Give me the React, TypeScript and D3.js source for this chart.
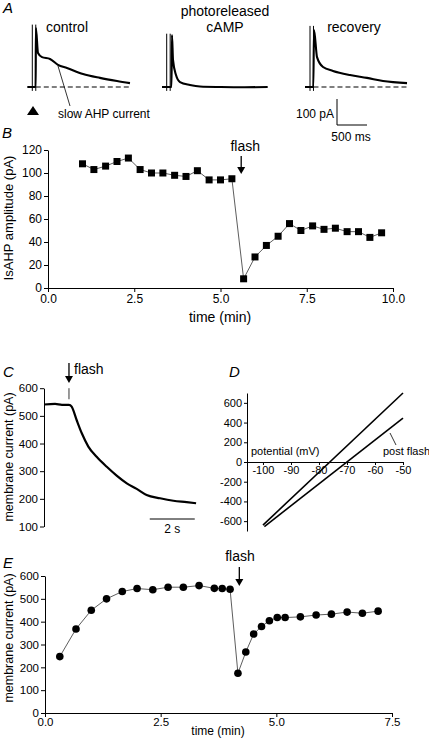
import React, { useEffect, useRef } from "react";
import * as d3 from "d3";

const FONT = "Arial, 'Liberation Sans', Helvetica, sans-serif";

// ---------- Panel A: current traces (time in ms after stimulus, current in pA above baseline)
const controlT = [-83, 0, 55, 60, 95, 162, 295, 428, 578, 845, 1128, 1412, 1628];
const controlI = [0, 0, 0, 227, 131, 115, 108, 85, 73, 50, 35, 23, 15];
const camT = [-78, 0, 80, 88, 105, 155, 222, 388, 555, 900, 1300, 1683];
const camI = [0, 0, 0, 200, 104, 46, 19, 8, 2, 0, -1, 0];
const recoveryT = [-83, 0, 55, 67, 117, 217, 383, 667, 950, 1217, 1617];
const recoveryI = [0, 0, 0, 219, 115, 77, 62, 46, 35, 23, 15];
const artifactTimes = [0, 58];
const artifactTops = [240, 205, 235];
const artifactBottom = -15;

// ---------- Panel B: IsAHP amplitude vs time
const bTime = [1.0, 1.33, 1.67, 2.0, 2.33, 2.67, 3.0, 3.33, 3.67, 4.0, 4.33, 4.67, 5.0, 5.33, 5.67, 6.0, 6.33, 6.67, 7.0, 7.33, 7.67, 8.0, 8.33, 8.67, 9.0, 9.33, 9.67];
const bAmp = [108, 103, 106, 110, 113, 103, 100, 100, 98, 97, 102, 94, 94, 95, 8, 27, 37, 45, 56, 50, 54, 51, 52, 49, 49, 44, 48];
const bXTicks = [0, 2.5, 5, 7.5, 10];
const bYTicks = [0, 20, 40, 60, 80, 100, 120];
const bFlash = 5.6;

// ---------- Panel C: membrane current trace (time s, current pA)
const cTime = [0, 0.49, 0.8, 1.11, 1.23, 1.45, 1.68, 1.97, 2.34, 2.79, 3.23, 3.68, 4.12, 4.56, 5.16, 5.75, 6.34, 6.76];
const cCurrent = [541, 543, 540, 540, 533, 485, 437, 389, 352, 316, 284, 256, 236, 214, 202, 193, 188, 184];
const cYTicks = [100, 200, 300, 400, 500, 600];
const cFlash = 1.11;
const cScaleBar = [4.7, 6.7];

// ---------- Panel D: I-V relations (mV, pA)
const dControlV = [-100, -50];
const dControlI = [-640, 700];
const dPostV = [-99.5, -50];
const dPostI = [-655, 445];
const dXTicks = [-100, -90, -80, -70, -60, -50];
const dYTicks = [-600, -400, -200, 0, 200, 400, 600];

// ---------- Panel E: membrane current vs time
const eTime = [0.32, 0.67, 1.0, 1.33, 1.67, 1.99, 2.33, 2.66, 2.99, 3.33, 3.66, 3.83, 4.0, 4.17, 4.34, 4.51, 4.68, 4.85, 5.02, 5.19, 5.52, 5.86, 6.19, 6.53, 6.86, 7.2];
const eCurrent = [247, 368, 450, 500, 532, 545, 540, 551, 551, 558, 546, 545, 542, 174, 267, 346, 379, 404, 418, 418, 421, 429, 433, 442, 437, 446];
const eXTicks = [0, 2.5, 5, 7.5];
const eYTicks = [0, 100, 200, 300, 400, 500, 600];
const eFlash = 4.2;

// ---------- scales
const xA = d3.scaleLinear().domain([0, 500]).range([0, 30]);
const yA = d3.scaleLinear().domain([0, 100]).range([87, 61]);
const xB = d3.scaleLinear().domain([0, 10]).range([48, 393]);
const yB = d3.scaleLinear().domain([0, 120]).range([288, 150]);
const xC = d3.scaleLinear().domain([0, 1]).range([44, 66.5]);
const yC = d3.scaleLinear().domain([100, 600]).range([526.5, 388.2]);
const xD = d3.scaleLinear().domain([-105.7, -50]).range([247, 403]);
const yD = d3.scaleLinear().domain([-700, 700]).range([531, 393]);
const xE = d3.scaleLinear().domain([0, 7.5]).range([45, 392]);
const yE = d3.scaleLinear().domain([0, 600]).range([713, 576]);

const traceOffsets = [32.3, 166.7, 310];

function Arrow({ x, y1, y2 }: { x: number; y1: number; y2: number }) {
  return (
    <g>
      <line x1={x} x2={x} y1={y1} y2={y2 - 6} stroke="#000" strokeWidth={1.3} />
      <path d={`M${x - 4},${y2 - 7} L${x + 4},${y2 - 7} L${x},${y2} Z`} fill="#000" />
    </g>
  );
}

export default function App() {
  const ref = useRef<SVGSVGElement>(null);

  useEffect(() => {
    const svg = d3.select(ref.current);
    const style = (g: any, fs: number) => {
      g.attr("font-family", FONT).attr("font-size", fs);
      g.selectAll("text").attr("fill", "#000");
      g.select(".domain").attr("stroke", "#000").attr("stroke-width", 1);
      g.selectAll(".tick line").attr("stroke", "#000");
    };
    const f1 = d3.format(".1f");
    const plain = (d: any) => String(d);
    svg.select<SVGGElement>(".bx").call(d3.axisBottom(xB).tickValues(bXTicks).tickFormat(f1 as any).tickSize(4).tickSizeOuter(0).tickPadding(2)).call(style, 12);
    svg.select<SVGGElement>(".by").call(d3.axisLeft(yB).tickValues(bYTicks).tickFormat(plain).tickSize(4).tickSizeOuter(0).tickPadding(2)).call(style, 12);
    svg.select<SVGGElement>(".cy").call(d3.axisLeft(yC).tickValues(cYTicks).tickFormat(plain).tickSize(4).tickSizeOuter(0).tickPadding(2)).call(style, 11.5);
    svg.select<SVGGElement>(".dy").call(d3.axisLeft(yD).tickValues(dYTicks).tickFormat(plain).tickSize(3).tickSizeOuter(0).tickPadding(2)).call(style, 11);
    svg.select<SVGGElement>(".dx").call(d3.axisBottom(xD).tickValues(dXTicks).tickFormat(plain).tickSize(3).tickSizeOuter(0).tickPadding(1)).call(style, 11);
    svg.select<SVGGElement>(".ex").call(d3.axisBottom(xE).tickValues(eXTicks).tickFormat(f1 as any).tickSize(4).tickSizeOuter(0).tickPadding(1)).call(style, 11.5);
    svg.select<SVGGElement>(".ey").call(d3.axisLeft(yE).tickValues(eYTicks).tickFormat(plain).tickSize(4).tickSizeOuter(0).tickPadding(2)).call(style, 11.5);
    svg.select(".dx").selectAll(".tick text").attr("dy", "0.75em");
  }, []);

  const traces = [
    { t: controlT, i: controlI },
    { t: camT, i: camI },
    { t: recoveryT, i: recoveryI },
  ];
  const traceLine = (off: number) =>
    d3.line<[number, number]>().x((d) => off + xA(d[0])).y((d) => yA(d[1])).curve(d3.curveMonotoneX);

  const bLine = d3.line<number>().x((_, k) => xB(bTime[k])).y((d) => yB(d));
  const cLine = d3.line<number>().x((_, k) => xC(cTime[k])).y((d) => yC(d)).curve(d3.curveMonotoneX);
  const eLine = d3.line<number>().x((_, k) => xE(eTime[k])).y((d) => yE(d));
  const dLine = (v: number[], i: number[]) => d3.line<number>().x((d) => xD(d)).y((_, k) => yD(i[k]))(v) as string;

  const txt = { fontFamily: FONT, fill: "#000" } as const;
  const letter = { fontFamily: FONT, fontStyle: "italic", fontSize: 15, fill: "#000" } as const;

  return (
    <svg ref={ref} width={429} height={739} style={{ position: "absolute", left: 0, top: 0, background: "#fff" }}>
      <rect width={429} height={739} fill="#fff" />
      {/* ---------- A ---------- */}
      <text x={3} y={13} style={letter}>A</text>
      <text x={67} y={32} textAnchor="middle" fontSize={14} style={txt}>control</text>
      <text x={225} y={16} textAnchor="middle" fontSize={14} style={txt}>photoreleased</text>
      <text x={225} y={32} textAnchor="middle" fontSize={14} style={txt}>cAMP</text>
      <text x={354} y={32} textAnchor="middle" fontSize={14} style={txt}>recovery</text>
      {traces.map((tr, k) => {
        const off = traceOffsets[k];
        const pts: [number, number][] = tr.t.map((t, j) => [t, tr.i[j]]);
        return (
          <g key={k}>
            {artifactTimes.map((at, j) => (
              <line key={j} x1={off + xA(at)} x2={off + xA(at)} y1={yA(artifactTops[k])} y2={yA(artifactBottom)} stroke="#000" strokeWidth={1} />
            ))}
            {k !== 1 && (
              <line x1={off + xA(artifactTimes[1])} x2={off + xA(tr.t[tr.t.length - 1])} y1={yA(0)} y2={yA(0)} stroke="#000" strokeWidth={1.1} strokeDasharray="5,3" />
            )}
            <path d={traceLine(off)(pts) as string} fill="none" stroke="#000" strokeWidth={2.1} />
          </g>
        );
      })}
      <path d="M27,115 L39,115 L33,106 Z" fill="#000" />
      <line x1={58} y1={66} x2={70} y2={106} stroke="#000" strokeWidth={0.8} />
      <text x={58} y={118} fontSize={12} style={txt}>slow AHP current</text>
      {/* scale bar */}
      <line x1={337} x2={337} y1={125} y2={125 - (yA(0) - yA(100))} stroke="#000" strokeWidth={1} />
      <line x1={337} x2={337 + xA(500)} y1={125} y2={125} stroke="#000" strokeWidth={1} />
      <text x={334} y={118} textAnchor="end" fontSize={12} style={txt}>100 pA</text>
      <text x={351} y={141} textAnchor="middle" fontSize={12} style={txt}>500 ms</text>

      {/* ---------- B ---------- */}
      <text x={2} y={138} style={letter}>B</text>
      <g className="bx" transform="translate(0,288)" />
      <g className="by" transform="translate(48,0)" />
      <path d={bLine(bAmp) as string} fill="none" stroke="#333" strokeWidth={0.8} />
      {bAmp.map((v, k) => (
        <rect key={k} x={xB(bTime[k]) - 3.5} y={yB(v) - 3.5} width={7} height={7} fill="#000" />
      ))}
      <text x={xB(bFlash) + 4} y={151} textAnchor="middle" fontSize={14} style={txt}>flash</text>
      <Arrow x={xB(bFlash)} y1={156} y2={174} />
      <text x={220} y={322} textAnchor="middle" fontSize={14} style={txt}>time (min)</text>
      <text transform="translate(13,218) rotate(-90)" textAnchor="middle" fontSize={13} style={txt}>IsAHP amplitude (pA)</text>

      {/* ---------- C ---------- */}
      <text x={3} y={377} style={letter}>C</text>
      <g className="cy" transform="translate(44,0)" />
      <path d={cLine(cCurrent) as string} fill="none" stroke="#000" strokeWidth={2.2} />
      <line x1={xC(cFlash)} x2={xC(cFlash)} y1={yC(600)} y2={yC(560)} stroke="#000" strokeWidth={0.8} />
      <Arrow x={xC(cFlash)} y1={363} y2={383} />
      <text x={74} y={374} fontSize={14} style={txt}>flash</text>
      <line x1={xC(cScaleBar[0])} x2={xC(cScaleBar[1])} y1={519} y2={519} stroke="#000" strokeWidth={1} />
      <text x={(xC(cScaleBar[0]) + xC(cScaleBar[1])) / 2} y={533} textAnchor="middle" fontSize={12} style={txt}>2 s</text>
      <text transform="translate(13,457) rotate(-90)" textAnchor="middle" fontSize={12.5} style={txt}>membrane current (pA)</text>

      {/* ---------- D ---------- */}
      <text x={229} y={377} style={letter}>D</text>
      <g className="dy" transform="translate(247,0)" />
      <g className="dx" transform={`translate(0,${yD(0)})`} />
      <path d={dLine(dControlV, dControlI)} fill="none" stroke="#000" strokeWidth={1.6} />
      <path d={dLine(dPostV, dPostI)} fill="none" stroke="#000" strokeWidth={1.6} />
      <text x={251} y={455} fontSize={11} style={txt}>potential (mV)</text>
      <text x={383} y={455} fontSize={11} style={txt}>post flash</text>
      <line x1={390} y1={433} x2={396} y2={445} stroke="#000" strokeWidth={0.8} />

      {/* ---------- E ---------- */}
      <text x={3} y={568} style={letter}>E</text>
      <g className="ex" transform="translate(0,713)" />
      <g className="ey" transform="translate(45,0)" />
      <path d={eLine(eCurrent) as string} fill="none" stroke="#333" strokeWidth={0.8} />
      {eCurrent.map((v, k) => (
        <circle key={k} cx={xE(eTime[k])} cy={yE(v)} r={3.8} fill="#000" />
      ))}
      <text x={240} y={561} textAnchor="middle" fontSize={14} style={txt}>flash</text>
      <Arrow x={xE(eFlash)} y1={567} y2={586} />
      <text x={218} y={735} textAnchor="middle" fontSize={12} style={txt}>time (min)</text>
      <text transform="translate(13,638) rotate(-90)" textAnchor="middle" fontSize={12.5} style={txt}>membrane current (pA)</text>
    </svg>
  );
}
